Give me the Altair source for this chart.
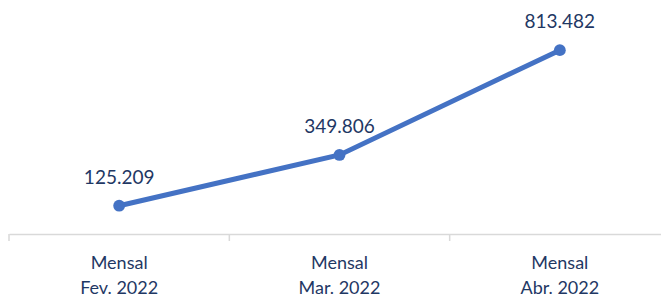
import altair as alt
import pandas as pd

categories = ["Mensal|Fev. 2022", "Mensal|Mar. 2022", "Mensal|Abr. 2022"]
values = [125209, 349806, 813482]
labels = [f"{v:,}".replace(",", ".") for v in values]

df = pd.DataFrame({"cat": categories, "val": values, "lbl": labels})

FONT = "Lato"
TXT = "#1F3864"
BLUE = "#4472C4"
GRAY = "#D9D9D9"

xscale = alt.Scale(type="band", paddingInner=0, paddingOuter=0, range=[0, 661])
x_main = alt.X("cat:N", sort=None, title=None, scale=xscale,
               axis=alt.Axis(labelExpr="split(datum.label, '|')", labelAngle=0,
                             ticks=False, domain=True, domainColor=GRAY,
                             domainWidth=1.5, labelFont=FONT, labelFontSize=18,
                             labelColor=TXT, labelLineHeight=25, labelPadding=20,
                             bandPosition=0.5))
x_edge = alt.X("cat:N", sort=None, title=None, scale=xscale, bandPosition=0)
y = alt.Y("val:Q", scale=alt.Scale(domain=[0, 1000000]), axis=None)

line = alt.Chart(df).mark_line(color=BLUE, strokeWidth=5).encode(x=x_main, y=y)
ticks = alt.Chart(df).mark_rule(color=GRAY, strokeWidth=1.5).encode(
    x=x_edge, y=alt.value(226), y2=alt.value(233))
pts = alt.Chart(df).mark_circle(color=BLUE, size=140, opacity=1).encode(x=x_main, y=y)
txt = alt.Chart(df).mark_text(font=FONT, fontSize=19, color=TXT, dy=-28,
                              baseline="middle").encode(x=x_main, y=y, text="lbl:N")

chart = alt.layer(line, ticks, pts, txt).properties(
    width=652, height=226,
    autosize=alt.AutoSizeParams(type="none"),
    padding={"left": 1, "top": 0, "right": 0, "bottom": 63},
).configure_view(stroke=None)

chart.save("out.html", embed_options={"renderer": "svg", "actions": False})
